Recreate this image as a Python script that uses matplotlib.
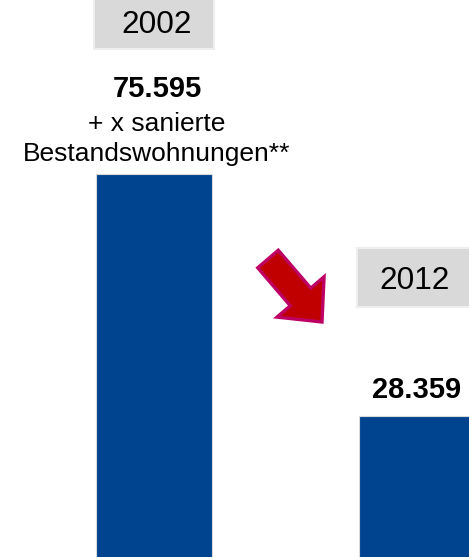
import matplotlib
matplotlib.use("Agg")
import matplotlib.pyplot as plt
from matplotlib.patches import Rectangle, FancyArrow

# data
years = ["2002", "2012"]
values = [75595, 28359]
value_labels = ["75.595", "28.359"]
extra_label = "+ x sanierte\nBestandswohnungen**"

plt.rcParams["font.family"] = ["Liberation Sans", "DejaVu Sans"]

fig = plt.figure(figsize=(4.69, 5.57), dpi=100)
ax = fig.add_axes([0, 0, 1, 1])
ax.set_xlim(-0.5856, 1.1977)
ax.set_ylim(781, 109582)
ax.axis("off")

xs = range(len(years))
ax.bar(xs, values, width=0.441, color="#004490", edgecolor="#DADADA", linewidth=0.8)

# year boxes (x in data, y in axes fraction)
trans = ax.get_xaxis_transform()
boxes = [(0.912, 0.10, 0.9407), (0.449, 0.106, 0.4811)]
for x, yr, (y0, h, yb) in zip(xs, years, boxes):
    ax.add_patch(Rectangle((x - 0.23, y0), 0.46, h, transform=trans,
                           facecolor="#D9D9D9", edgecolor="#EEEEEE", linewidth=1.5,
                           clip_on=False))
    ax.text(x + 0.01 * (1 - 2 * x), yb, yr, transform=trans,
            ha="center", va="baseline", fontsize=22.7)

# value labels
ax.annotate(value_labels[0], (0, values[0]), xytext=(3, 77), textcoords="offset pixels",
            ha="center", va="baseline", fontsize=21, fontweight="bold")
ax.annotate(extra_label, (0, values[0]), xytext=(3, 13), textcoords="offset pixels",
            ha="center", va="baseline", fontsize=19, linespacing=1.3,
            multialignment="center")
ax.annotate(value_labels[1], (1, values[1]), xytext=(0, 18), textcoords="offset pixels",
            ha="center", va="baseline", fontsize=21, fontweight="bold")

# red down arrow
arrow = FancyArrow(2.68, 2.98, 0.54, -0.63, width=0.27, head_width=0.62,
                   head_length=0.33, length_includes_head=True,
                   transform=fig.dpi_scale_trans, facecolor="#C00000",
                   edgecolor="#BE0064", linewidth=2.4)
fig.add_artist(arrow)

fig.savefig("out.png", dpi=100)
